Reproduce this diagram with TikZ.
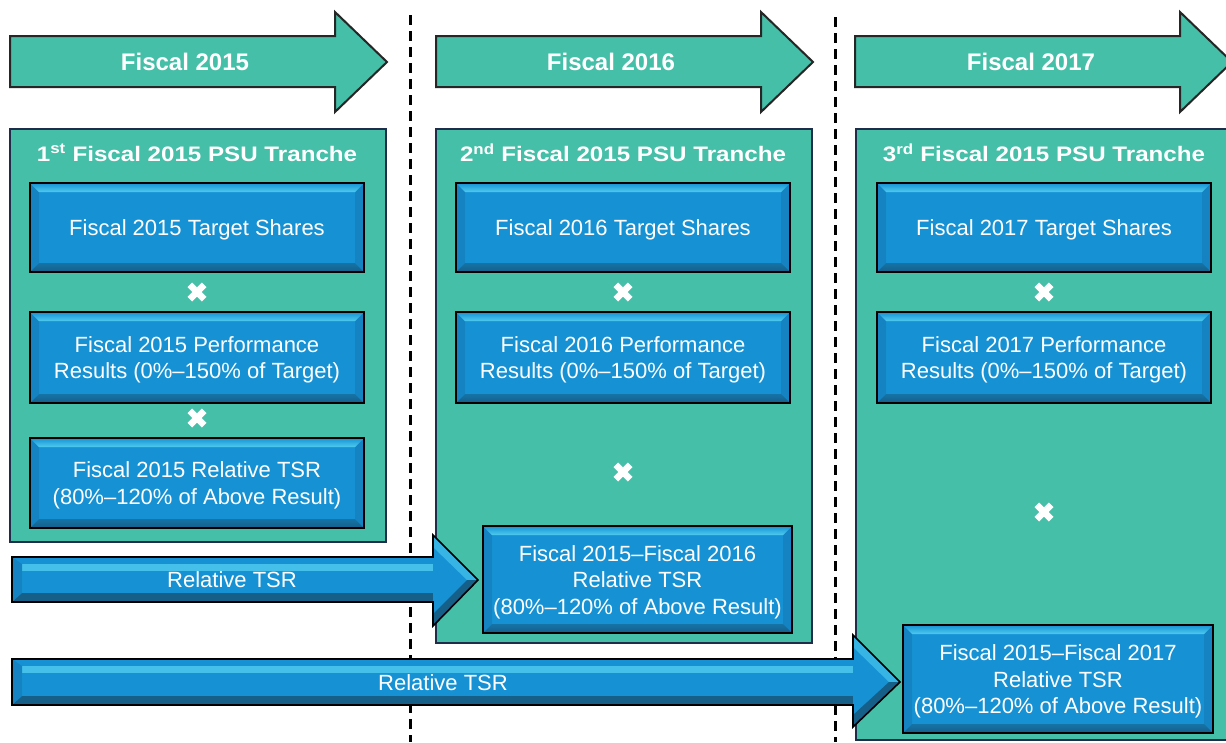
\documentclass[tikz,border=0pt]{standalone}
\usepackage{fontspec}
\setmainfont{Liberation Sans}
\newfontfamily\widefont[FakeStretch=1.15]{Liberation Sans}
\usetikzlibrary{calc}
\definecolor{tealfill}{HTML}{45BFA8}
\definecolor{boxblue}{HTML}{1692D4}
\definecolor{bevtop}{HTML}{4FCBEF}
\definecolor{bevbot}{HTML}{155F88}
\definecolor{bevside}{HTML}{1583C2}
\definecolor{navyline}{HTML}{1F2D4A}
\newcommand\bluepanel[5]{%
  \node[bluebox, minimum width=#3, minimum height=#4] (#1) at #2 {};
  \node[boxtext] (#1t) at ($(#1.center)+(0,2.5)$) {#5};}
\begin{document}
\begin{tikzpicture}[x=1pt,y=-1pt,
  yeararrow/.style={draw=black!85, line width=2pt, fill=tealfill, line join=miter},
  yearlabel/.style={text=white, font=\fontsize{24}{28}\selectfont\bfseries, inner sep=0pt},
  tranche/.style={draw=navyline, line width=2pt, fill=tealfill, inner sep=0pt},
  tranchetitle/.style={text=white, font=\widefont\fontsize{21}{25}\selectfont\bfseries, inner sep=0pt},
  bluebox/.style={draw=black, line width=1.8pt, fill=boxblue, inner sep=0pt,
    path picture={
      \coordinate (PA) at (path picture bounding box.north west);
      \coordinate (PB) at (path picture bounding box.north east);
      \coordinate (PC) at (path picture bounding box.south east);
      \coordinate (PD) at (path picture bounding box.south west);
      \fill[bevside] (PA) -- ($(PA)+(9pt,-9pt)$) -- ($(PD)+(9pt,9pt)$) -- (PD) -- cycle;
      \fill[bevside] (PB) -- ($(PB)+(-9pt,-9pt)$) -- ($(PC)+(-9pt,9pt)$) -- (PC) -- cycle;
      \shade[top color=boxblue, bottom color=bevtop] (PA) -- (PB) -- ($(PB)+(-9pt,-9pt)$) -- ($(PA)+(9pt,-9pt)$) -- cycle;
      \shade[top color=bevbot!60!boxblue, bottom color=bevbot] (PD) -- (PC) -- ($(PC)+(-9pt,9pt)$) -- ($(PD)+(9pt,9pt)$) -- cycle;
    }},
  boxtext/.style={text=white, font=\fontsize{22}{26.5}\selectfont, align=center, inner sep=0pt},
  xmark/.style={minimum size=14pt, inner sep=0pt},
  xline/.style={draw=white, line width=6.5pt, line cap=butt},
  divider/.style={draw=black, line width=3pt, dash pattern=on 10pt off 6pt},
  tsrarrow/.style={draw=black, line width=1.6pt, line join=miter},
  tsrlabel/.style={text=white, font=\fontsize{22}{26}\selectfont, inner sep=0pt}
]
\clip (0,0) rectangle (1226,742);
\fill[white] (0,0) rectangle (1226,742);

% top year arrows
\draw[yeararrow] (10,36) -- (335,36) -- (335,12) -- (387,62) -- (335,112) -- (335,87) -- (10,87) -- cycle;
\node[yearlabel] (y1) at (185,62) {Fiscal 2015};
\draw[yeararrow] (436,36) -- (761,36) -- (761,12) -- (813,62) -- (761,112) -- (761,87) -- (436,87) -- cycle;
\node[yearlabel] (y2) at (611,62) {Fiscal 2016};
\draw[yeararrow] (855,36) -- (1180,36) -- (1180,12) -- (1232,62) -- (1180,112) -- (1180,87) -- (855,87) -- cycle;
\node[yearlabel] (y3) at (1031,62) {Fiscal 2017};

% dashed dividers
\coordinate (d1a) at (410.5,15);
\coordinate (d1b) at (410.5,742);
\coordinate (d2a) at (835,17);
\coordinate (d2b) at (835,742);
\draw[divider] (d1a) -- (d1b);
\draw[divider] (d2a) -- (d2b);

% tranche boxes
\node[tranche, minimum width=376pt, minimum height=413pt] (T1) at (198,335.5) {};
\node[tranche, minimum width=376pt, minimum height=514pt] (T2) at (624,386) {};
\node[tranche, minimum width=376pt, minimum height=611pt] (T3) at (1044,434.5) {};
\node[tranchetitle] (tt1) at (197,153) {1\textsuperscript{st} Fiscal 2015 PSU Tranche};
\node[tranchetitle] (tt2) at (623,153) {2\textsuperscript{nd} Fiscal 2015 PSU Tranche};
\node[tranchetitle] (tt3) at (1044,153) {3\textsuperscript{rd} Fiscal 2015 PSU Tranche};

% tranche 1
\bluepanel{a1}{(197,227.5)}{334pt}{89pt}{Fiscal 2015 Target Shares}
\bluepanel{a2}{(197,357.5)}{334pt}{91pt}{Fiscal 2015 Performance\\Results (0\%–150\% of Target)}
\bluepanel{a3}{(197,483)}{334pt}{90pt}{Fiscal 2015 Relative TSR\\(80\%–120\% of Above Result)}
\node[xmark] (ax1) at (197,292) {};
\node[xmark] (ax2) at (197,418) {};

% tranche 2
\bluepanel{b1}{(623,227.5)}{334pt}{89pt}{Fiscal 2016 Target Shares}
\bluepanel{b2}{(623,357.5)}{334pt}{91pt}{Fiscal 2016 Performance\\Results (0\%–150\% of Target)}
\bluepanel{b3}{(637.5,579.5)}{309pt}{107pt}{Fiscal 2015–Fiscal 2016\\Relative TSR\\(80\%–120\% of Above Result)}
\node[xmark] (bx1) at (623,292) {};
\node[xmark] (bx2) at (623,472) {};

% tranche 3
\bluepanel{c1}{(1044,227.5)}{334pt}{89pt}{Fiscal 2017 Target Shares}
\bluepanel{c2}{(1044,357.5)}{334pt}{91pt}{Fiscal 2017 Performance\\Results (0\%–150\% of Target)}
\bluepanel{c3}{(1058,679)}{310pt}{108pt}{Fiscal 2015–Fiscal 2017\\Relative TSR\\(80\%–120\% of Above Result)}
\node[xmark] (cx1) at (1044,292) {};
\node[xmark] (cx2) at (1044,512) {};

\foreach \n in {ax1,ax2,bx1,bx2,cx1,cx2}{
  \draw[xline] (\n.north west) -- (\n.south east);
  \draw[xline] (\n.north east) -- (\n.south west);
}

% relative TSR arrow 1
\begin{scope}
  \clip (12,557) -- (433,557) -- (433,535) -- (478,580) -- (433,626) -- (433,602) -- (12,602) -- cycle;
  \fill[boxblue] (0,530) rectangle (480,630);
  \fill[bevtop!80!boxblue] (20,564) rectangle (433,571);
  \fill[bevbot] (12,593) rectangle (433,602);
  \fill[bevside] (12,557) -- (22,564) -- (22,593) -- (12,602) -- cycle;
  \fill[bevtop!60!boxblue] (433,535) -- (478,580) -- (467,580) -- (433,547) -- cycle;
  \fill[bevbot] (433,626) -- (478,580) -- (467,580) -- (433,614) -- cycle;
\end{scope}
\draw[tsrarrow] (12,557) -- (433,557) -- (433,535) -- (478,580) -- (433,626) -- (433,602) -- (12,602) -- cycle;
\node[tsrlabel] (r1) at (232,580) {Relative TSR};

% relative TSR arrow 2
\begin{scope}
  \clip (12,659) -- (853,659) -- (853,635) -- (900,682) -- (853,727) -- (853,705) -- (12,705) -- cycle;
  \fill[boxblue] (0,630) rectangle (905,730);
  \fill[bevtop!80!boxblue] (20,666) rectangle (853,673);
  \fill[bevbot] (12,696) rectangle (853,705);
  \fill[bevside] (12,659) -- (22,666) -- (22,696) -- (12,705) -- cycle;
  \fill[bevtop!60!boxblue] (853,635) -- (900,682) -- (889,682) -- (853,647) -- cycle;
  \fill[bevbot] (853,727) -- (900,682) -- (889,682) -- (853,715) -- cycle;
\end{scope}
\draw[tsrarrow] (12,659) -- (853,659) -- (853,635) -- (900,682) -- (853,727) -- (853,705) -- (12,705) -- cycle;
\node[tsrlabel] (r2) at (443,683) {Relative TSR};
\end{tikzpicture}
\end{document}
